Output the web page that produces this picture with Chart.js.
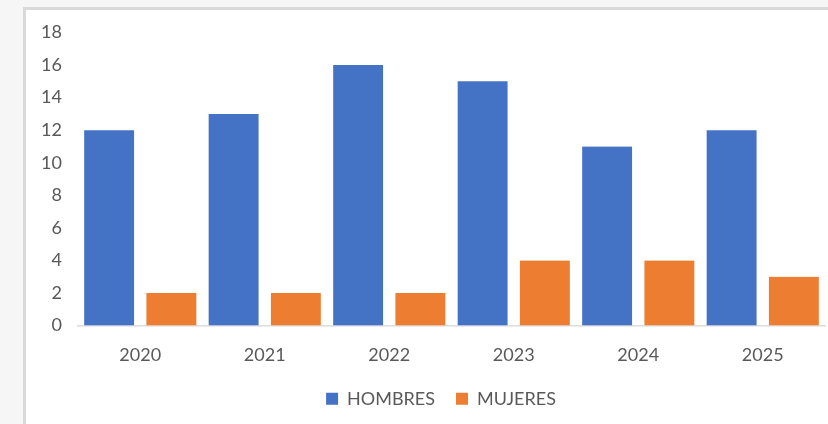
<!DOCTYPE html>
<html>
<head>
<meta charset="utf-8">
<script src="https://cdn.jsdelivr.net/npm/chart.js@4"></script>
<style>
  html, body { margin: 0; padding: 0; background: #f6f6f6; }
  #wrap { position: relative; width: 828px; height: 424px; overflow: hidden; background: #f6f6f6; }
  #box { position: absolute; left: 23px; top: 7px; width: 900px; height: 500px; background: #ffffff;
         border-left: 3px solid #d9d9d9; border-top: 3px solid #d9d9d9; }
  #cv { position: absolute; left: 0; top: 0; }
</style>
</head>
<body>
<div id="wrap">
  <div id="box"></div>
  <canvas id="cv" width="882" height="440"></canvas>
</div>
<script>
const categories = ['2020', '2021', '2022', '2023', '2024', '2025'];
const hombres = [12, 13, 16, 15, 11, 12];
const mujeres = [2, 2, 2, 4, 4, 3];
const seriesNames = ['HOMBRES', 'MUJERES'];
const yTicks = [0, 2, 4, 6, 8, 10, 12, 14, 16, 18];

const FONT = 'Lato';
const TXT = '#595959';
const gapBorder = { left: 6.5, right: 6.5, top: 0, bottom: 0 };

new Chart(document.getElementById('cv'), {
  type: 'bar',
  data: {
    labels: categories,
    datasets: [
      { label: seriesNames[0], data: hombres, backgroundColor: '#4472C4', borderColor: '#ffffff',
        borderWidth: gapBorder, categoryPercentage: 1, barPercentage: 1 },
      { label: seriesNames[1], data: mujeres, backgroundColor: '#ED7D31', borderColor: '#ffffff',
        borderWidth: gapBorder, categoryPercentage: 1, barPercentage: 1 }
    ]
  },
  options: {
    responsive: false,
    animation: false,
    devicePixelRatio: 1,
    layout: { padding: { top: 32.5, left: 0, right: 0, bottom: 22.2 } },
    plugins: {
      tooltip: { enabled: false },
      legend: {
        position: 'bottom',
        labels: {
          boxWidth: 12, boxHeight: 12, padding: 21, color: TXT,
          font: { family: FONT, size: 18 },
          generateLabels: (chart) => {
            const items = Chart.defaults.plugins.legend.labels.generateLabels(chart);
            items.forEach(it => { it.lineWidth = 0; it.strokeStyle = it.fillStyle; });
            return items;
          }
        }
      }
    },
    scales: {
      x: {
        grid: { display: false, drawTicks: false },
        border: { display: true, color: '#d9d9d9', width: 1.5 },
        ticks: { color: TXT, font: { family: FONT, size: 18 }, padding: 19, maxRotation: 0 },
        afterFit: (s) => { s.height = 43.2; }
      },
      y: {
        min: 0, max: 18,
        grid: { display: false, drawTicks: false },
        border: { display: false },
        afterBuildTicks: (s) => { s.ticks = yTicks.map(v => ({ value: v })); },
        ticks: { color: TXT, font: { family: FONT, size: 18 }, padding: 16 },
        afterFit: (s) => { s.width = 78; }
      },
      yRight: {
        position: 'right',
        display: true,
        grid: { display: false, drawTicks: false },
        border: { display: false },
        ticks: { display: false },
        afterFit: (s) => { s.width = 57; }
      }
    }
  }
});
</script>
</body>
</html>
